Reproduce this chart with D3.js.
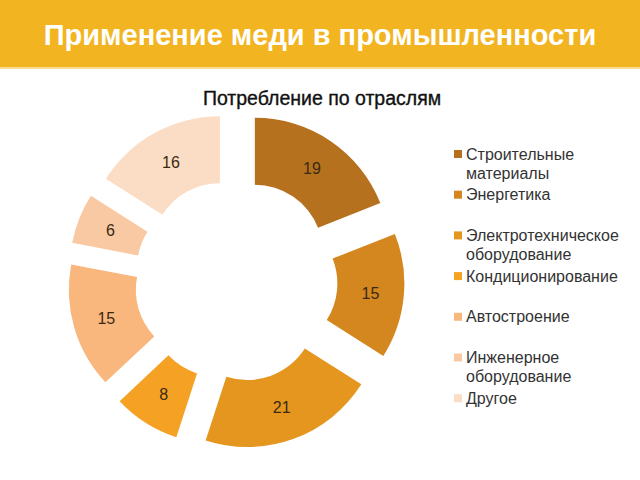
<!DOCTYPE html>
<html><head><meta charset="utf-8">
<script src="https://cdn.jsdelivr.net/npm/d3@7"></script>
<style>body{margin:0;background:#fff;}svg{display:block;font-family:"Liberation Sans",Arial,sans-serif;}</style>
</head><body>
<svg id="c" width="640" height="480"></svg>
<script>
const categories = ["Строительные материалы","Энергетика","Электротехническое оборудование","Кондиционирование","Автостроение","Инженерное оборудование","Другое"];
const legendLines = [["Строительные","материалы"],["Энергетика"],["Электротехническое","оборудование"],["Кондиционирование"],["Автостроение"],["Инженерное","оборудование"],["Другое"]];
const values = [19,15,21,8,15,6,16];
const colors = ["#b5711d","#d4861f","#e5961f","#f5a224","#f9b77e","#f8c9a3","#fbdcc4"];
const mainTitle = "Применение меди в промышленности";
const chartTitle = "Потребление по отраслям";

const svg = d3.select("#c");
svg.append("rect").attr("x",0).attr("y",0).attr("width",640).attr("height",67).attr("fill","#f2b521");
svg.append("rect").attr("x",0).attr("y",67).attr("width",640).attr("height",2).attr("fill","#f8dc96");
svg.append("text").attr("x",320).attr("y",45).attr("text-anchor","middle")
  .attr("fill","#fff").attr("font-weight","bold").attr("font-size",29).text(mainTitle);
svg.append("text").attr("x",322).attr("y",105).attr("text-anchor","middle")
  .attr("fill","#111").attr("font-size",19.5).attr("stroke","#111").attr("stroke-width",0.35).text(chartTitle);

const cx=236, cy=280.5, R=135, r=68, d=33.5;
const pie = d3.pie().sort(null).value(v=>v);
const arcs = pie(values);
const arc = d3.arc().innerRadius(r).outerRadius(R);
const g = svg.append("g").attr("transform",`translate(${cx},${cy})`);
const sl = g.selectAll("g.s").data(arcs).join("g").attr("class","s")
  .attr("transform",a=>{const m=(a.startAngle+a.endAngle)/2;return `translate(${d*Math.sin(m)},${-d*Math.cos(m)})`;});
sl.append("path").attr("d",arc).attr("fill",(a,i)=>colors[i]);
sl.append("text").attr("transform",a=>`translate(${arc.centroid(a)})`)
  .attr("text-anchor","middle").attr("dy","0.35em").attr("font-size",16).attr("fill","#3a2a12")
  .text(a=>a.data);

const lg = svg.append("g");
const y0=154, step=40.7;
legendLines.forEach((lines,i)=>{
  const y=y0+i*step;
  lg.append("rect").attr("x",454).attr("y",y-4).attr("width",8).attr("height",8).attr("fill",colors[i]);
  lines.forEach((t,j)=>{
    lg.append("text").attr("x",466).attr("y",y+5.5+j*19).attr("font-size",16).attr("fill","#333").text(t);
  });
});
</script>
</body></html>
